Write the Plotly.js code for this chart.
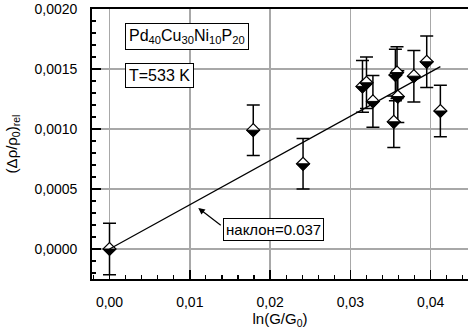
<!DOCTYPE html>
<html>
<head>
<meta charset="utf-8">
<script src="https://cdn.plot.ly/plotly-3.0.1.min.js"></script>
<style>html,body{margin:0;padding:0;background:#fff;}#chart{width:468px;height:336px;}</style>
</head>
<body>
<div id="chart"></div>
<script>
// Data
const lnG = [0, 0.0179, 0.0241, 0.0315, 0.0320, 0.0328, 0.0354, 0.0356, 0.0358, 0.0359, 0.0379, 0.0395, 0.0412];
const dRho = [0, 0.00099, 0.00071, 0.001355, 0.001385, 0.00123, 0.00106, 0.00145, 0.00147, 0.00127, 0.00144, 0.00156, 0.00115];
const dRhoErr = [0.000215, 0.00021, 0.00021, 0.000215, 0.000215, 0.000215, 0.000215, 0.000215, 0.000215, 0.000215, 0.000215, 0.000215, 0.000215];
const fitX = [0, 0.0412];
const fitY = [0, 0.00152];
const labelAlloy = 'Pd<sub>40</sub>Cu<sub>30</sub>Ni<sub>10</sub>P<sub>20</sub>';
const labelTemp = 'T=533 K';
const labelSlope = 'наклон=0.037';

const FONT = 'Liberation Sans, Arial, sans-serif';

const traces = [
  {
    x: lnG, y: dRho, type: 'scatter', mode: 'markers',
    marker: {symbol: 'diamond', size: 10, color: '#ffffff', line: {color: '#000', width: 1.2}},
    error_y: {type: 'data', array: dRhoErr, visible: true, color: '#000', thickness: 1.5, width: 6.5},
    showlegend: false, hoverinfo: 'none'
  },
  {
    x: fitX, y: fitY, type: 'scatter', mode: 'lines',
    line: {color: '#000', width: 1.3}, showlegend: false, hoverinfo: 'none'
  }
];

// black lower half of each diamond marker
const shapes = lnG.map((xv, i) => ({
  type: 'path', xref: 'x', yref: 'y',
  xsizemode: 'pixel', ysizemode: 'pixel',
  xanchor: xv, yanchor: dRho[i],
  path: 'M-6.5,0 L6.5,0 L0,-6.5 Z',
  fillcolor: '#000', line: {color: '#000', width: 1}, layer: 'above'
}));

const layout = {
  width: 468, height: 336,
  margin: {l: 92, r: 0, t: 9, b: 57},
  paper_bgcolor: '#fff', plot_bgcolor: '#fff',
  separators: ', ',
  font: {family: FONT, size: 14, color: '#000'},
  xaxis: {
    range: [-0.00218, 0.04464],
    tick0: 0, dtick: 0.01, tickformat: '.2f',
    ticks: 'inside', ticklen: 9, tickwidth: 1.5, tickcolor: '#000',
    minor: {dtick: 0.002, tick0: 0, ticks: 'inside', ticklen: 4, tickwidth: 1.2, tickcolor: '#000', showgrid: false},
    showgrid: true, gridcolor: '#a8a8a8', gridwidth: 1.5,
    showline: true, linecolor: '#000', linewidth: 1.8, mirror: true,
    zeroline: false, ticklabelstandoff: 9,
    tickfont: {family: FONT, size: 14, color: '#000'},
    title: {text: 'ln(G/G<sub>0</sub>)', font: {family: FONT, size: 15, color: '#000'}, standoff: 5}
  },
  yaxis: {
    range: [-0.00025, 0.0020],
    tick0: 0, dtick: 0.0005, tickformat: '.4f',
    ticks: 'inside', ticklen: 9, tickwidth: 1.5, tickcolor: '#000',
    minor: {dtick: 0.0001, tick0: 0, ticks: 'inside', ticklen: 4, tickwidth: 1.2, tickcolor: '#000', showgrid: false},
    showgrid: true, gridcolor: '#a8a8a8', gridwidth: 1.5,
    showline: true, linecolor: '#000', linewidth: 1.8, mirror: false,
    zeroline: false, ticklabelstandoff: 10,
    tickfont: {family: FONT, size: 14, color: '#000'},
    title: {text: '(Δρ/ρ<sub>0</sub>)<sub>rel</sub>', font: {family: FONT, size: 15, color: '#000'}, standoff: 13}
  },
  shapes: shapes,
  annotations: [
    {xref: 'x', yref: 'y', x: 0.00193, y: 0.001767, xanchor: 'left', yanchor: 'middle',
     text: labelAlloy, showarrow: false, font: {family: FONT, size: 16, color: '#000'},
     bgcolor: '#fff', bordercolor: '#000', borderwidth: 1, borderpad: 3},
    {xref: 'x', yref: 'y', x: 0.00193, y: 0.001448, xanchor: 'left', yanchor: 'middle',
     text: labelTemp, showarrow: false, font: {family: FONT, size: 16, color: '#000'},
     bgcolor: '#fff', bordercolor: '#000', borderwidth: 1, borderpad: 3},
    {xref: 'x', yref: 'y', x: 0.01413, y: 0.000164, xanchor: 'left', yanchor: 'middle',
     text: labelSlope, showarrow: false, font: {family: FONT, size: 15, color: '#000'},
     bgcolor: '#fff', bordercolor: '#000', borderwidth: 1, borderpad: 2},
    {xref: 'x', yref: 'y', x: 0.01105, y: 0.000342, text: '', showarrow: true,
     ax: 24, ay: 18.5, arrowhead: 2, arrowsize: 1.1, arrowwidth: 1.2, arrowcolor: '#000', standoff: 0}
  ]
};

Plotly.newPlot('chart', traces, layout, {staticPlot: true, displayModeBar: false});
</script>
</body>
</html>
